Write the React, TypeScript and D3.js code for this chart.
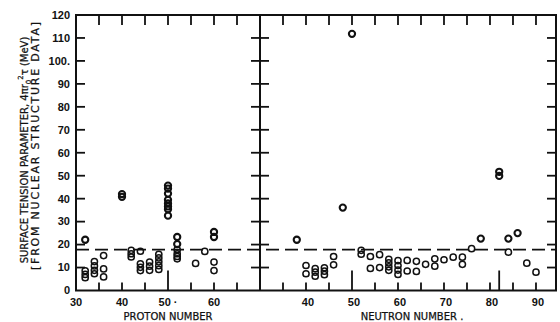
import React from 'react';
import * as d3 from 'd3';

// proton number panel
const protonNumbers = [32, 34, 36, 40, 42, 44, 46, 48, 50, 52, 56, 58, 60];
const protonValues = [
  [22.1, 8.6, 7.0, 5.6],
  [12.6, 10.7, 8.8, 7.3],
  [15.2, 9.4, 5.9],
  [42.0, 40.8],
  [17.5, 16.0, 14.6],
  [17.1, 11.6, 10.1, 8.7],
  [12.4, 10.6, 8.8],
  [15.8, 14.2, 12.5, 10.8, 9.2],
  [45.7, 44.4, 42.2, 39.5, 37.9, 36.6, 35.4, 32.6],
  [23.3, 20.2, 17.8, 16.0, 14.8, 13.8],
  [11.8],
  [17.0],
  [25.5, 23.3, 12.4, 8.7],
];

// neutron number panel
const neutronNumbers = [38, 40, 42, 44, 46, 48, 50, 52, 54, 56, 58, 60, 62, 64, 66, 68, 70, 72, 74, 76, 78, 82, 84, 86, 88, 90];
const neutronValues = [
  [22.1],
  [10.9, 7.3],
  [9.5, 8.0, 6.2],
  [9.9, 8.4, 6.9],
  [14.8, 11.2],
  [36.1],
  [111.8],
  [17.5, 15.8],
  [14.8, 9.6],
  [15.6, 10.0],
  [13.6, 12.0, 10.3, 8.8],
  [13.0, 10.9, 8.9, 7.0],
  [13.1, 8.5],
  [12.7, 8.3],
  [11.4],
  [13.8, 10.6],
  [13.4],
  [14.5],
  [14.5, 11.4],
  [18.2],
  [22.6],
  [51.7, 49.9],
  [22.6, 16.7],
  [25.0],
  [11.9],
  [8.0],
];

const dashedLevel = 17.8;
const yTickValues = [0, 10, 20, 30, 40, 50, 60, 70, 80, 90, 100, 110, 120];
const yTickLabels = ['0', '10', '20', '30', '40', '50', '60', '70', '80', '90', '100.', '110', '120'];
const protonTickLabels = [30, 40, 50, 60];
const protonLabelText = ['30', '40', '50 ·', '60'];
const neutronTickLabels = [40, 50, 60, 70, 80, 90];
const protonMinorTicks = [35, 40, 45, 50, 55, 60, 65];
const neutronMinorTicks = [35, 40, 45, 50, 55, 60, 65, 70, 75, 80, 85, 90];
const longTicks = [50, 82];

const top = 15;
const bottom = 290.5;
const left = 76;
const mid = 260;
const right = 556;

const y = d3.scaleLinear().domain([0, 120]).range([bottom, top]);
const xP = d3.scaleLinear().domain([30, 70]).range([left, mid]);
const xN = d3.scaleLinear().domain([30, 94.35]).range([mid, right]);

const font = '"Liberation Sans", Arial, sans-serif';
const titleFont = '"DejaVu Sans", sans-serif';

function Points({ nums, vals, x }: { nums: number[]; vals: number[][]; x: d3.ScaleLinear<number, number> }) {
  return (
    <g fill="none" stroke="#111">
      {nums.map((n, i) =>
        vals[i].map((v, j) => (
          <circle key={n + '-' + j} cx={x(n)} cy={y(v)} r={3.1} strokeWidth={v > 20 ? 2.1 : 1.5} />
        ))
      )}
    </g>
  );
}

function XTicks({ ticks, x }: { ticks: number[]; x: d3.ScaleLinear<number, number> }) {
  const [d0, d1] = x.domain();
  const bottomTicks = ticks.concat(longTicks.filter((t) => !ticks.includes(t) && t >= d0 && t <= d1));
  return (
    <g stroke="#111" strokeWidth={1.8}>
      {ticks.map((t) => (
        <line key={'t' + t} x1={x(t)} x2={x(t)} y1={top} y2={top + 10} />
      ))}
      {bottomTicks.map((t) => (
        <line key={'b' + t} x1={x(t)} x2={x(t)} y1={bottom} y2={bottom - (longTicks.includes(t) ? 20 : 8)} />
      ))}
    </g>
  );
}

export default function App() {
  const yTicks = yTickValues.filter((v) => v > 0 && v < 120);
  return (
    <svg width={560} height={322} style={{ position: 'absolute', left: 0, top: 0, background: '#fff' }}>
      <rect width={560} height={322} fill="#fff" />
      {/* frame */}
      <g fill="none" stroke="#111" strokeWidth={2}>
        <rect x={left} y={top} width={right - left} height={bottom - top} />
        <line x1={mid} x2={mid} y1={top} y2={bottom} />
      </g>
      {/* y ticks */}
      <g stroke="#111" strokeWidth={1.8}>
        {yTicks.map((v) => (
          <g key={v}>
            <line x1={left} x2={left + 9} y1={y(v)} y2={y(v)} />
            <line x1={mid - 9} x2={mid + 9} y1={y(v)} y2={y(v)} />
            <line x1={right - 9} x2={right} y1={y(v)} y2={y(v)} />
          </g>
        ))}
      </g>
      <XTicks ticks={protonMinorTicks} x={xP} />
      <XTicks ticks={neutronMinorTicks} x={xN} />
      {/* dashed reference */}
      <line x1={left} x2={right} y1={y(dashedLevel)} y2={y(dashedLevel)} stroke="#111" strokeWidth={1.8} strokeDasharray="13 6" />
      <Points nums={protonNumbers} vals={protonValues} x={xP} />
      <Points nums={neutronNumbers} vals={neutronValues} x={xN} />
      {/* tick labels */}
      <g fontFamily={font} fontSize={11} fontWeight="bold" fill="#111">
        {yTickValues.map((v, i) => (
          <text key={v} x={70} y={y(v)} dy="0.35em" textAnchor="end">
            {yTickLabels[i]}
          </text>
        ))}
        {protonTickLabels.map((t, i) => (
          <text key={'p' + t} x={xP(t)} y={305.5} textAnchor="middle">
            {protonLabelText[i]}
          </text>
        ))}
        {neutronTickLabels.map((t) => (
          <text key={'n' + t} x={xN(t) + 2} y={305.5} textAnchor="middle">
            {t}
          </text>
        ))}
      </g>
      {/* axis titles */}
      <g fontFamily={titleFont} fontSize={10} fill="#111" stroke="#111" strokeWidth={0.25}>
        <text x={168} y={320} textAnchor="middle">PROTON NUMBER</text>
        <text x={412} y={320} textAnchor="middle">NEUTRON NUMBER .</text>
        <text transform="translate(28,150) rotate(-90)" textAnchor="middle">
          SURFACE TENSION PARAMETER, 4πr
          <tspan fontSize={7} dy={3}>0</tspan>
          <tspan fontSize={7} dy={-8}>2</tspan>
          <tspan dy={5}>τ (MeV)</tspan>
        </text>
        <text transform="translate(39,146) rotate(-90)" textAnchor="middle" fontSize={11} textLength={248} lengthAdjust="spacing">
          [FROM NUCLEAR STRUCTURE DATA]
        </text>
      </g>
    </svg>
  );
}
